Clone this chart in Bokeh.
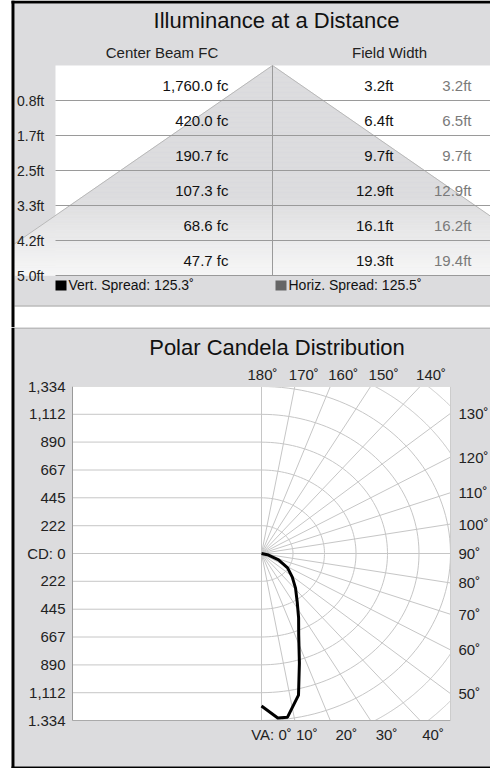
import math
import numpy as np
from bokeh.plotting import figure
from bokeh.models import Range1d, ColumnDataSource
from bokeh.layouts import column
from bokeh.embed import file_html
from bokeh.resources import INLINE
from bokeh.core.properties import value

# ---------------- data ----------------
distances_ft = [0.8, 1.7, 2.5, 3.3, 4.2, 5.0]
center_beam_fc = [1760.0, 420.0, 190.7, 107.3, 68.6, 47.7]
field_width_vert = [3.2, 6.4, 9.7, 12.9, 16.1, 19.3]
field_width_horiz = [3.2, 6.5, 9.7, 12.9, 16.2, 19.4]
vert_spread = 125.3
horiz_spread = 125.5

va_deg = [0, 5, 8, 13, 17, 22, 27, 33, 41, 49, 58, 67, 76, 90]
candela = [1218, 1319, 1320, 1161, 915, 701, 577, 463, 366, 288, 217, 131, 51, 0]
cd_max = 1334
cd_ticks = [-1334, -1112, -890, -667, -445, -222, 0, 222, 445, 667, 890, 1112, 1334]
cd_tick_labels = ["1.334", "1,112", "890", "667", "445", "222", "CD: 0",
                  "222", "445", "667", "890", "1,112", "1,334"]
top_angles = [180, 170, 160, 150, 140]
right_angles = [130, 120, 110, 100, 90, 80, 70, 60, 50]
bottom_angles = [0, 10, 20, 30, 40]
radial_step = 10
ring_count = 8

# ---------------- style / layout ----------------
FONT = "Liberation Sans"
PANEL = "#dcdcde"
GRIDC = "#c6c6c6"
W = 490
TOP_H = 327
BOT_H = 441
top_label_dx = [1, 9, 13, 13, 11]
bottom_label_dx = [10, 12, 16, 16, 13]


def txt(p, xs, ys, texts, size, align="left", baseline="middle", color="#111111",
        xr="default", yr="default", x_offset=None):
    d = dict(x=list(xs), y=list(ys), t=list(texts))
    d["dx"] = list(x_offset) if x_offset is not None else [0] * len(d["x"])
    src = ColumnDataSource(d)
    p.text(x="x", y="y", text="t", source=src, text_font=value(FONT),
           text_font_size=size, text_align=align, text_baseline=baseline,
           text_color=color, x_range_name=xr, y_range_name=yr, x_offset="dx")


def clip_poly(poly, xmin, xmax, ymin, ymax):
    def clip(pts, inside, inter):
        out = []
        n = len(pts)
        for i in range(n):
            a, b = pts[i - 1], pts[i]
            ia, ib = inside(a), inside(b)
            if ib:
                if not ia:
                    out.append(inter(a, b))
                out.append(b)
            elif ia:
                out.append(inter(a, b))
        return out

    def ix(xc):
        def f(a, b):
            t = (xc - a[0]) / (b[0] - a[0])
            return (xc, a[1] + t * (b[1] - a[1]))
        return f

    def iy(yc):
        def f(a, b):
            t = (yc - a[1]) / (b[1] - a[1])
            return (a[0] + t * (b[0] - a[0]), yc)
        return f

    pts = poly
    for inside, inter in [
        (lambda q: q[0] >= xmin, ix(xmin)),
        (lambda q: q[0] <= xmax, ix(xmax)),
        (lambda q: q[1] >= ymin, iy(ymin)),
        (lambda q: q[1] <= ymax, iy(ymax)),
    ]:
        if not pts:
            break
        pts = clip(pts, inside, inter)
    return pts


# ================= TOP PANEL (page pixel coordinates) =================
top = figure(width=W, height=TOP_H, x_range=Range1d(0, W), y_range=Range1d(TOP_H, 0),
             output_backend="svg", toolbar_location=None, title=None,
             x_axis_location=None, y_axis_location=None, min_border=0)
top.grid.visible = False
top.outline_line_color = None
top.background_fill_color = "white"
top.border_fill_color = "white"

BX0, BX1 = 11, 14
RIGHT = W
TBL_L, TBL_T, ROW_H, DIV_X = 55, 65, 35, 272
n_rows = len(distances_ft)
TBL_B = TBL_T + ROW_H * n_rows
LEG_B = TBL_B + 30

# panel + table
top.quad(left=[BX1], right=[RIGHT], top=[3], bottom=[LEG_B], fill_color=PANEL, line_color=None)
top.quad(left=[TBL_L], right=[RIGHT], top=[TBL_T], bottom=[TBL_B], fill_color="white", line_color=None)

# beam cone with gradient
slope = 1.447
apex = (DIV_X, TBL_T)
H3 = (TBL_B - TBL_T) * 3
tri = [apex, (DIV_X + slope * H3, TBL_T + H3), (DIV_X - slope * H3, TBL_T + H3)]
bxs, bys, bcols = [], [], []
step = 2.5
y = TBL_T
while y < TBL_B - 1e-6:
    y1 = min(TBL_B, y + step)
    poly = clip_poly(tri, BX1, RIGHT, y, y1)
    if len(poly) >= 3:
        ym = 0.5 * (y + y1)
        f = 0.0 if ym < 195 else (ym - 195) / (TBL_B - 195)
        c0 = np.array([220, 220, 222])
        c1 = np.array([247, 247, 247])
        c = (c0 + (c1 - c0) * f).astype(int)
        bxs.append([q[0] for q in poly])
        bys.append([q[1] for q in poly])
        bcols.append("#%02x%02x%02x" % tuple(c))
    y = y1
top.patches(xs=bxs, ys=bys, fill_color=bcols, line_color=bcols, line_width=0.6)

# cone edges
yl_hit = TBL_T + (DIV_X - BX1) / slope
top.line(x=[BX1, DIV_X, RIGHT], y=[yl_hit, TBL_T, TBL_T + (RIGHT - DIV_X) / slope],
         line_color="#b8b8b8", line_width=1)

# grid of table
row_tops = [TBL_T + ROW_H * i for i in range(n_rows)]
row_lines = [TBL_T + ROW_H * (i + 1) for i in range(n_rows)]
top.segment(x0=[TBL_L] * n_rows, x1=[RIGHT] * n_rows, y0=row_lines, y1=row_lines,
            line_color="#9a9a9a", line_width=1)
top.segment(x0=[DIV_X], x1=[DIV_X], y0=[TBL_T], y1=[TBL_B], line_color="#9a9a9a", line_width=1)

# texts
txt(top, [276], [20], ["Illuminance at a Distance"], "22px", align="center", color="#111111")
txt(top, [161.5, 389], [51.5, 51.5], ["Center Beam FC", "Field Width"], "15px", align="center",
    color="#222222")
row_mid = [t + 20 for t in row_tops]
txt(top, [228] * n_rows, row_mid, ["{:,.1f} fc".format(v) for v in center_beam_fc],
    "15px", align="right", color="#111111")
txt(top, [393] * n_rows, row_mid, ["{:.1f}ft".format(v) for v in field_width_vert],
    "15px", align="right", color="#111111")
txt(top, [471] * n_rows, row_mid, ["{:.1f}ft".format(v) for v in field_width_horiz],
    "15px", align="right", color="#7a7a7a")
txt(top, [16.5] * n_rows, [l + 0.5 for l in row_lines], ["{:.1f}ft".format(v) for v in distances_ft],
    "14px", align="left", color="#222222")

# legend
top.quad(left=[55, 275], right=[66, 286], top=[280, 280], bottom=[290, 290],
         fill_color=["#000000", "#666666"], line_color=None)
txt(top, [68, 288], [284, 284],
    ["Vert. Spread: {:.1f}˚".format(vert_spread), "Horiz. Spread: {:.1f}˚".format(horiz_spread)],
    "14px", align="left", color="#111111")

top.segment(x0=[BX1], x1=[RIGHT], y0=[LEG_B + 0.5], y1=[LEG_B + 0.5], line_color="#9a9a9a", line_width=1)
top.quad(left=[BX0, BX0], right=[BX1, RIGHT], top=[0, 0], bottom=[TOP_H, 3],
         fill_color="black", line_color=None)

# ================= BOTTOM PANEL (polar) =================
PX_L, PX_R, PY_T, PY_B = 72, 450, 386, 720
Y0 = TOP_H
Y1 = TOP_H + BOT_H
sx = (PX_R - PX_L) / (2 * cd_max)
sy = (PY_B - PY_T) / (2 * cd_max)
xr = Range1d(-cd_max - PX_L / sx, cd_max + (W - PX_R) / sx)
yr = Range1d(-cd_max - (Y1 - PY_B) / sy, cd_max + (PY_T - Y0) / sy)

bot = figure(width=W, height=BOT_H, x_range=xr, y_range=yr,
             output_backend="svg", toolbar_location=None, title=None,
             x_axis_location=None, y_axis_location=None, min_border=0)
bot.grid.visible = False
bot.outline_line_color = None
bot.background_fill_color = "white"
bot.border_fill_color = "white"
bot.extra_x_ranges = {"px": Range1d(0, W)}
bot.extra_y_ranges = {"px": Range1d(Y1, Y0)}

bot.quad(left=[BX1], right=[RIGHT], top=[Y0], bottom=[Y1 - 2], fill_color=PANEL, line_color=None,
         x_range_name="px", y_range_name="px")
bot.segment(x0=[BX1], x1=[RIGHT], y0=[Y0 + 0.5], y1=[Y0 + 0.5], line_color="#9a9a9a", line_width=1,
            x_range_name="px", y_range_name="px")
bot.quad(left=[BX0, BX0], right=[BX1, RIGHT], top=[Y0, Y1 - 2], bottom=[Y1, Y1],
         fill_color="black", line_color=None, x_range_name="px", y_range_name="px")

# plot box
bot.quad(left=[-cd_max], right=[cd_max], top=[cd_max], bottom=[-cd_max], fill_color="white", line_color=None)

# horizontal grid (left half)
bot.segment(x0=[-cd_max] * len(cd_ticks), x1=[0] * len(cd_ticks), y0=cd_ticks, y1=cd_ticks,
            line_color=GRIDC, line_width=1)

# radial lines
rx0, ry0, rx1, ry1 = [], [], [], []
for a in range(0, 181, radial_step):
    s, c = math.sin(math.radians(a)), -math.cos(math.radians(a))
    t = min(cd_max / abs(s) if abs(s) > 1e-9 else 1e9, cd_max / abs(c) if abs(c) > 1e-9 else 1e9)
    rx0.append(0); ry0.append(0); rx1.append(t * s); ry1.append(t * c)
bot.segment(x0=rx0, y0=ry0, x1=rx1, y1=ry1, line_color=GRIDC, line_width=1)

# rings (right half), clipped to the box
ring_step = cd_max / 6
axs, ays = [], []
for k in range(1, ring_count + 1):
    r = ring_step * k
    if r <= cd_max + 1e-6:
        pieces = [(0, 180)]
    else:
        cc = cd_max / r
        lo, hi = math.degrees(math.acos(cc)), math.degrees(math.asin(cc))
        pieces = [(lo, hi), (180 - hi, 180 - lo)] if lo < hi else []
    for (a0, a1) in pieces:
        th = np.radians(np.linspace(a0, a1, 90))
        axs.append(list(r * np.sin(th)))
        ays.append(list(-r * np.cos(th)))
bot.multi_line(xs=axs, ys=ays, line_color=GRIDC, line_width=1)

# box edges
bot.segment(x0=[-cd_max, -cd_max, cd_max, -cd_max], y0=[-cd_max, -cd_max, -cd_max, cd_max],
            x1=[-cd_max, cd_max, cd_max, cd_max], y1=[cd_max, -cd_max, cd_max, cd_max],
            line_color=["#999999", "#aaaaaa", "#cccccc", "#dddddd"], line_width=1)

# candela curve
th = np.radians(va_deg)
cx = np.array(candela) * np.sin(th)
cy = -np.array(candela) * np.cos(th)
bot.line(x=list(cx), y=list(cy), line_color="black", line_width=3, line_join="round")

# labels
txt(bot, [276.5], [347], ["Polar Candela Distribution"], "22px", align="center",
    xr="px", yr="px", color="#111111")
txt(bot, [65] * len(cd_ticks), cd_ticks, cd_tick_labels, "15px", align="right",
    xr="px", color="#222222")
txt(bot, [cd_max * math.tan(math.radians(180 - a)) for a in top_angles], [373.5] * len(top_angles),
    ["{}˚".format(a) for a in top_angles], "15px", align="center", yr="px",
    x_offset=top_label_dx, color="#222222")
txt(bot, [cd_max * math.tan(math.radians(a)) for a in bottom_angles], [733.5] * len(bottom_angles),
    [("VA: {}˚" if a == 0 else "{}˚").format(a) for a in bottom_angles], "15px", align="center",
    yr="px", x_offset=bottom_label_dx, color="#222222")
txt(bot, [458] * len(right_angles),
    [-cd_max * math.cos(math.radians(a)) / math.sin(math.radians(a)) for a in right_angles],
    ["{}˚".format(a) for a in right_angles], "15px", align="left",
    xr="px", color="#222222")

layout = column(top, bot, spacing=0)
open("out.html", "w").write(file_html(layout, INLINE))
